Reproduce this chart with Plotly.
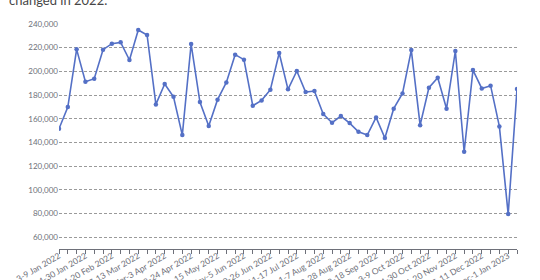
import plotly.graph_objects as go

weeks = [
    "3-9 Jan 2022", "10-16 Jan 2022", "17-23 Jan 2022", "24-30 Jan 2022",
    "31 Jan-6 Feb 2022", "7-13 Feb 2022", "14-20 Feb 2022", "21-27 Feb 2022",
    "28 Feb-6 Mar 2022", "7-13 Mar 2022", "14-20 Mar 2022", "21-27 Mar 2022",
    "28 Mar-3 Apr 2022", "4-10 Apr 2022", "11-17 Apr 2022", "18-24 Apr 2022",
    "25 Apr-1 May 2022", "2-8 May 2022", "9-15 May 2022", "16-22 May 2022",
    "23-29 May 2022", "30 May-5 Jun 2022", "6-12 Jun 2022", "13-19 Jun 2022",
    "20-26 Jun 2022", "27 Jun-3 Jul 2022", "4-10 Jul 2022", "11-17 Jul 2022",
    "18-24 Jul 2022", "25-31 Jul 2022", "1-7 Aug 2022", "8-14 Aug 2022",
    "15-21 Aug 2022", "22-28 Aug 2022", "29 Aug-4 Sep 2022", "5-11 Sep 2022",
    "12-18 Sep 2022", "19-25 Sep 2022", "26 Sep-2 Oct 2022", "3-9 Oct 2022",
    "10-16 Oct 2022", "17-23 Oct 2022", "24-30 Oct 2022", "31 Oct-6 Nov 2022",
    "7-13 Nov 2022", "14-20 Nov 2022", "21-27 Nov 2022", "28 Nov-4 Dec 2022",
    "5-11 Dec 2022", "12-18 Dec 2022", "19-25 Dec 2022", "26 Dec-1 Jan 2023",
    "2-8 Jan 2023",
]

values = [
    151500, 169900, 218600, 191300, 193800, 218300, 223400, 224500, 209600,
    234900, 230700, 172100, 189300, 178600, 146200, 223100, 174100, 153800,
    176100, 190700, 214100, 209900, 171000, 175500, 184500, 215500, 184800,
    200300, 182500, 183400, 163900, 156600, 162300, 156300, 149000, 146200,
    161100, 143700, 168500, 181400, 218000, 154600, 186200, 194600, 168500,
    217200, 132100, 201100, 185600, 187900, 153500, 79500, 185100,
]

y_ticks = [60000, 80000, 100000, 120000, 140000, 160000, 180000, 200000, 220000, 240000]
label_step = 3
x_ticktext = [w if i % label_step == 0 else "" for i, w in enumerate(weeks)]

title_text = "changed in 2022."

fig = go.Figure()
fig.add_trace(go.Scatter(
    x=weeks, y=values, mode="lines+markers",
    line=dict(color="#5470c6", width=1.6),
    marker=dict(color="#5470c6", size=4.5),
    hoverinfo="x+y", showlegend=False,
))

fig.update_layout(
    width=540, height=280,
    margin=dict(l=59, r=23, t=24, b=31, pad=0),
    paper_bgcolor="white", plot_bgcolor="white",
    font=dict(family="Lato", size=8, color="#6e7079"),
    annotations=[dict(
        text=title_text, xref="paper", yref="paper",
        x=(7 - 59) / 458, y=1 + (24 - 10) / 225,
        xanchor="left", yanchor="bottom", showarrow=False,
        font=dict(family="Lato", size=13, color="#464646"),
    )],
)

fig.update_xaxes(
    type="category", range=[0, len(weeks) - 1],
    tickmode="array", tickvals=weeks, ticktext=x_ticktext,
    tickangle=-30, ticks="outside", ticklen=4, tickcolor="#6e7079",
    ticklabelstandoff=-6,
    showline=True, linecolor="#6e7079", linewidth=1,
    showgrid=False, zeroline=False, automargin=False,
    tickfont=dict(family="Lato", size=8.5, color="#6e7079"),
)

fig.update_yaxes(
    range=[50000, 240000], tickmode="array", tickvals=y_ticks,
    tickformat=",", ticks="", showline=False, zeroline=False,
    showgrid=True, gridcolor="#9a9a9a", gridwidth=1, griddash="3px,2px",
    automargin=False,
    tickfont=dict(family="Lato", size=8, color="#6e7079"),
)

fig.write_html("out.html")
